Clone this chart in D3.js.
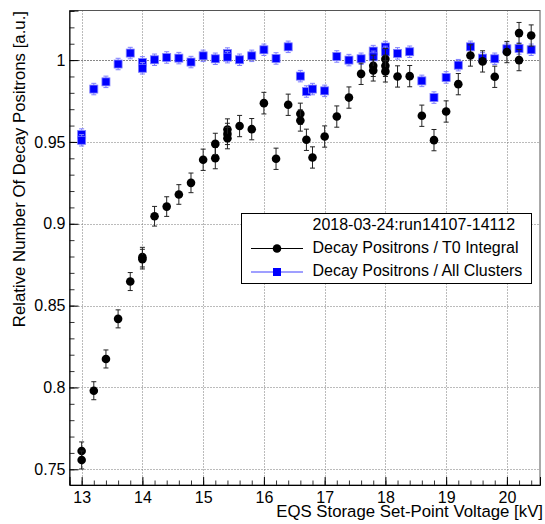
<!DOCTYPE html>
<html lang="en">

<head>
    <title>Decay Positrons vs EQS Voltage</title>
    <script src="https://d3js.org/d3.v7.min.js"></script>
    <style>
        body {
            margin: 0;
            background: white;
        }

        text {
            font-family: "Liberation Sans", Arial, Helvetica, sans-serif;
            font-size: 16px;
            fill: black;
        }

        .title {
            font-size: 16.8px;
        }

        .grid line {
            stroke: #777;
            stroke-dasharray: 1, 2;
        }
    </style>
</head>

<body>
<svg id="target" width="545" height="524"></svg>
<script type="text/javascript">
    // black series: decay positrons / T0 integral
    const t0Voltage = [13.0, 13.0, 13.2, 13.4, 13.6, 13.8, 14.0, 14.0, 14.2, 14.4, 14.6, 14.8, 15.0, 15.2, 15.2,
        15.4, 15.4, 15.4, 15.6, 15.8, 16.0, 16.2, 16.4, 16.6, 16.6, 16.7, 16.8, 17.0, 17.2, 17.4, 17.6,
        17.8, 17.8, 18.0, 18.0, 18.0, 18.2, 18.4, 18.6, 18.8, 19.0, 19.2, 19.4, 19.6, 19.8, 20.0, 20.2, 20.2, 20.4];
    const t0Ratio = [0.7612, 0.7557, 0.798, 0.8174, 0.8419, 0.8647, 0.8796, 0.8784, 0.9046, 0.9105, 0.9179, 0.925, 0.9391, 0.9401, 0.9488,
        0.9576, 0.9549, 0.9523, 0.9597, 0.9578, 0.9737, 0.9397, 0.9727, 0.9672, 0.9631, 0.9513, 0.9405, 0.9533, 0.9655, 0.9771, 0.9916,
        0.9965, 0.9937, 1.0006, 0.9965, 0.9931, 0.9900, 0.9902, 0.9660, 0.9511, 0.9686, 0.9853, 1.0028, 0.9992, 0.9898, 1.0049, 1.0165, 1.0000, 1.015];
    const t0Err = [0.0055, 0.0055, 0.0055, 0.0055, 0.0055, 0.0055, 0.006, 0.006, 0.006, 0.006, 0.006, 0.006, 0.0065, 0.0065, 0.0065,
        0.0065, 0.0065, 0.0065, 0.0065, 0.0065, 0.0066, 0.0065, 0.0065, 0.0065, 0.0065, 0.0065, 0.0065, 0.0065, 0.0065, 0.0065, 0.0065,
        0.0065, 0.0065, 0.0065, 0.0065, 0.0065, 0.0065, 0.0065, 0.0065, 0.0065, 0.0065, 0.0065, 0.0065, 0.0065, 0.0065, 0.0065, 0.0065, 0.0065, 0.0065];

    // blue series: decay positrons / all clusters
    const clusterVoltage = [13.0, 13.0, 13.2, 13.4, 13.6, 13.8, 14.0, 14.0, 14.2, 14.4, 14.6, 14.8, 15.0, 15.2,
        15.4, 15.4, 15.6, 15.8, 16.0, 16.2, 16.4, 16.6, 16.7, 16.8, 17.0, 17.2, 17.4, 17.6,
        17.8, 17.8, 18.0, 18.0, 18.2, 18.4, 18.6, 18.8, 19.0, 19.2, 19.4, 19.6, 19.8, 20.0, 20.2, 20.4];
    const clusterRatio = [0.9545, 0.951, 0.9823, 0.9867, 0.9976, 1.0043, 0.9986, 0.995, 1.0002, 1.0016, 1.0012, 0.9988, 1.0026, 1.0008,
        1.0040, 1.0018, 1.0002, 1.0026, 1.0063, 1.001, 1.0081, 0.9902, 0.9808, 0.9823, 0.9812, 1.0022, 1.0000, 1.0008,
        1.0055, 1.0020, 1.0080, 1.0050, 1.0041, 1.0051, 0.9873, 0.9771, 0.9894, 0.9969, 1.0081, 1.0012, 1.0008, 1.0069, 1.0071, 1.0063];
    const clusterErr = [0.0035, 0.0035, 0.0035, 0.0035, 0.0035, 0.0035, 0.0035, 0.0035, 0.0035, 0.0035, 0.0035, 0.0035, 0.0035, 0.0035,
        0.0035, 0.0035, 0.0035, 0.0035, 0.0035, 0.0035, 0.0035, 0.0035, 0.0035, 0.0035, 0.0035, 0.0035, 0.0035, 0.0035,
        0.0035, 0.0035, 0.0035, 0.0035, 0.0035, 0.0035, 0.0035, 0.0035, 0.0035, 0.0035, 0.0035, 0.0035, 0.0035, 0.0035, 0.0035, 0.0035];

    const xTicks = [13, 14, 15, 16, 17, 18, 19, 20];
    const yTicks = [0.75, 0.8, 0.85, 0.9, 0.95, 1];
    const legendTitle = "2018-03-24:run14107-14112";
    const legendLabels = ["Decay Positrons / T0 Integral", "Decay Positrons / All Clusters"];

    const frame = {left: 69.5, right: 540, top: 10.5, bottom: 485};
    const svg = d3.select('#target');

    const x = d3.scaleLinear().domain([12.8, 20.545]).range([frame.left, frame.right]);
    const y = d3.scaleLinear().domain([0.7404, 1.0303]).range([frame.bottom, frame.top]);

    // grid
    const grid = svg.append('g').attr('class', 'grid');
    grid.selectAll('line.gx')
        .data(xTicks)
        .join('line')
        .attr('class', 'gx')
        .attr('x1', d => Math.round(x(d)) + 0.5)
        .attr('x2', d => Math.round(x(d)) + 0.5)
        .attr('y1', frame.top)
        .attr('y2', frame.bottom);
    grid.selectAll('line.gy')
        .data(yTicks)
        .join('line')
        .attr('class', 'gy')
        .attr('x1', frame.left)
        .attr('x2', frame.right)
        .attr('y1', d => Math.round(y(d)) + 0.5)
        .attr('y2', d => Math.round(y(d)) + 0.5)
        .style('stroke', d => d === 1 ? '#111' : null);

    // frame
    svg.append('rect')
        .attr('x', frame.left)
        .attr('y', frame.top)
        .attr('width', frame.right - frame.left)
        .attr('height', frame.bottom - frame.top)
        .attr('fill', 'none')
        .attr('stroke', '#555');

    // x axis, ticks pointing inwards
    const xMinor = d3.range(12.8, 20.55, 0.2).map(v => +v.toFixed(1));
    const xAxis = svg.append('g').attr('transform', `translate(0,${frame.bottom})`);
    xAxis.call(d3.axisBottom(x).tickValues(xMinor).tickSize(-4.5).tickFormat(''));
    xAxis.call(g => g.selectAll('.tick line').attr('stroke', '#333'));
    const xMajor = svg.append('g').attr('transform', `translate(0,${frame.bottom})`)
        .call(d3.axisBottom(x).tickValues(xTicks).tickSize(-8).tickPadding(6.5).tickFormat(d3.format('d')));
    xMajor.selectAll('.domain').attr('stroke', 'black');
    xAxis.select('.domain').remove();
    xMajor.selectAll('text').style('font-size', '16px').attr('font-family', null);

    // y axis
    const yMinor = d3.range(0, 30).map(i => +(0.74 + i * 0.01).toFixed(2)).filter(v => v >= 0.7404 && v <= 1.03);
    const yAxis = svg.append('g').attr('transform', `translate(${frame.left},0)`);
    yAxis.call(d3.axisLeft(y).tickValues(yMinor).tickSize(-5).tickFormat(''));
    yAxis.select('.domain').remove();
    yAxis.selectAll('.tick line').attr('stroke', '#333');
    const yMajor = svg.append('g').attr('transform', `translate(${frame.left},0)`)
        .call(d3.axisLeft(y).tickValues(yTicks).tickSize(-9).tickPadding(4).tickFormat(d => String(d)));
    yMajor.selectAll('.domain').attr('stroke', 'black');
    yMajor.selectAll('text').style('font-size', '16px').attr('font-family', null);

    // axis titles
    svg.append('text')
        .attr('class', 'title')
        .attr('x', 543)
        .attr('y', 517)
        .attr('text-anchor', 'end')
        .text('EQS Storage Set-Point Voltage [kV]');
    svg.append('text')
        .attr('class', 'title')
        .attr('transform', 'translate(25,11) rotate(-90)')
        .attr('text-anchor', 'end')
        .text('Relative Number Of Decay Positrons [a.u.]');

    const capW = 2.5;

    // blue: all clusters
    const clusters = clusterVoltage.map((v, i) => ({x: v, y: clusterRatio[i], e: clusterErr[i]}));
    const blueG = svg.append('g');
    const blueBars = blueG.selectAll('g').data(clusters).join('g').attr('stroke', '#7f7fff');
    blueBars.append('line')
        .attr('x1', d => x(d.x)).attr('x2', d => x(d.x))
        .attr('y1', d => y(d.y - d.e)).attr('y2', d => y(d.y + d.e));
    blueBars.append('line')
        .attr('x1', d => x(d.x) - capW).attr('x2', d => x(d.x) + capW)
        .attr('y1', d => y(d.y + d.e)).attr('y2', d => y(d.y + d.e));
    blueBars.append('line')
        .attr('x1', d => x(d.x) - capW).attr('x2', d => x(d.x) + capW)
        .attr('y1', d => y(d.y - d.e)).attr('y2', d => y(d.y - d.e));
    blueBars.append('rect')
        .attr('x', d => x(d.x) - 4)
        .attr('y', d => y(d.y) - 4)
        .attr('width', 8)
        .attr('height', 8)
        .attr('fill', '#0000ff')
        .attr('stroke', '#7f7fff')
        .attr('stroke-width', 0.8);

    // black: T0 integral
    const t0 = t0Voltage.map((v, i) => ({x: v, y: t0Ratio[i], e: t0Err[i]}));
    const blackG = svg.append('g');
    const blackBars = blackG.selectAll('g').data(t0).join('g').attr('stroke', '#222');
    blackBars.append('line')
        .attr('x1', d => x(d.x)).attr('x2', d => x(d.x))
        .attr('y1', d => y(d.y - d.e)).attr('y2', d => y(d.y + d.e));
    blackBars.append('line')
        .attr('x1', d => x(d.x) - capW).attr('x2', d => x(d.x) + capW)
        .attr('y1', d => y(d.y + d.e)).attr('y2', d => y(d.y + d.e));
    blackBars.append('line')
        .attr('x1', d => x(d.x) - capW).attr('x2', d => x(d.x) + capW)
        .attr('y1', d => y(d.y - d.e)).attr('y2', d => y(d.y - d.e));
    blackBars.append('circle')
        .attr('cx', d => x(d.x))
        .attr('cy', d => y(d.y))
        .attr('r', 4.3)
        .attr('fill', 'black')
        .attr('stroke', 'none');

    // legend
    const legend = svg.append('g');
    legend.append('rect')
        .attr('x', 241.5).attr('y', 213.5)
        .attr('width', 290).attr('height', 70)
        .attr('fill', 'white').attr('stroke', 'black');
    legend.append('text').attr('x', 312.5).attr('y', 230).text(legendTitle);
    legend.selectAll('text.lab')
        .data(legendLabels)
        .join('text')
        .attr('class', 'lab')
        .attr('x', 312.5)
        .attr('y', (d, i) => 253 + i * 23)
        .text(d => d);
    legend.append('line').attr('x1', 251).attr('x2', 303).attr('y1', 248.5).attr('y2', 248.5).attr('stroke', 'black');
    legend.append('circle').attr('cx', 277).attr('cy', 248.5).attr('r', 4.3).attr('fill', 'black');
    legend.append('line').attr('x1', 251).attr('x2', 303).attr('y1', 272).attr('y2', 272).attr('stroke', '#7f7fff').attr('stroke-width', 1.5);
    legend.append('rect').attr('x', 273).attr('y', 268).attr('width', 8).attr('height', 8).attr('fill', '#0000ff');
</script>
</body>
</html>
